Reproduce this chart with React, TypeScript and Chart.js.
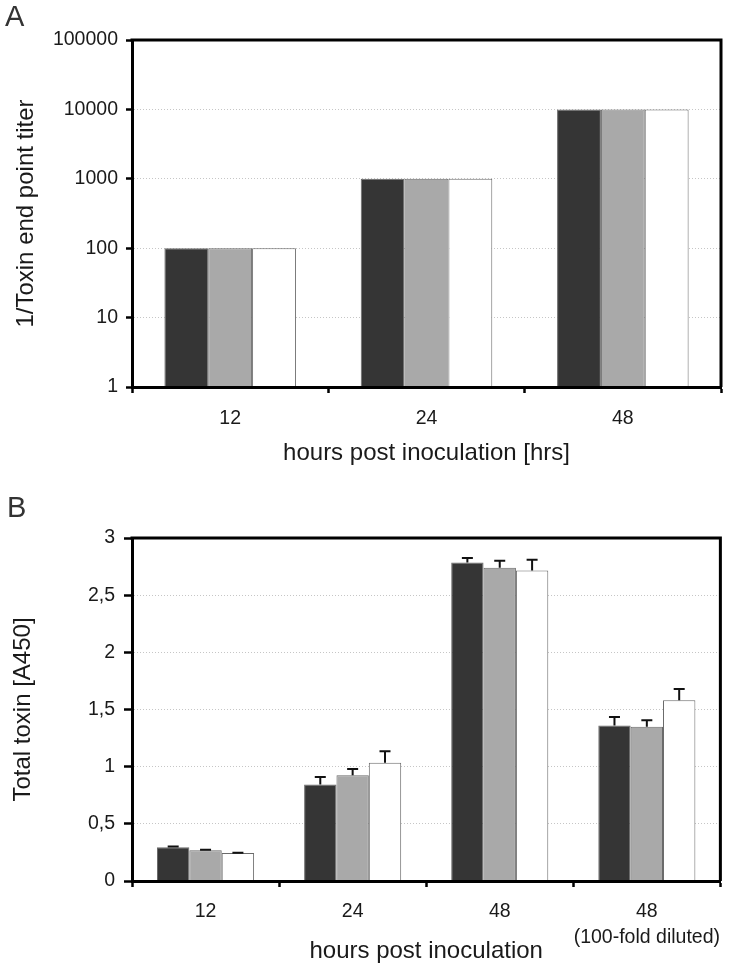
import { useEffect, useRef } from 'react';
import { Chart, registerables } from 'chart.js';

Chart.register(...registerables);

const FONT = '"Liberation Sans", Arial, Helvetica, sans-serif';
const TEXT = '#1a1a1a';

// Panel A
const categoriesA = ['12', '24', '48'];
const seriesA1 = [100, 1000, 10000];
const seriesA2 = [100, 1000, 10000];
const seriesA3 = [100, 1000, 10000];
const yTicksA = [1, 10, 100, 1000, 10000, 100000];

// Panel B
const categoriesB: (string | string[])[] = ['12', '24', '48', ['48', '(100-fold diluted)']];
const seriesB1 = [0.295, 0.845, 2.785, 1.36];
const seriesB2 = [0.27, 0.925, 2.74, 1.35];
const seriesB3 = [0.245, 1.035, 2.715, 1.58];
const errorB1 = [0.006, 0.065, 0.04, 0.075];
const errorB2 = [0.004, 0.055, 0.06, 0.055];
const errorB3 = [0.003, 0.1, 0.095, 0.1];
const yTicksB = [0, 0.5, 1, 1.5, 2, 2.5, 3];
const yTickLabelsB = ['0', '0,5', '1', '1,5', '2', '2,5', '3'];

const COLORS = ['#353535', '#a9a9a9', '#ffffff'];
const BORDER = '#6a6a6a';

const framePlugin = {
  id: 'frame',
  afterDraw(chart: any, _args: any, opts: any) {
    const { ctx, chartArea: a } = chart;
    ctx.save();
    ctx.strokeStyle = '#000';
    ctx.lineWidth = 3;
    ctx.beginPath();
    ctx.moveTo(a.left - 1.5, a.top);
    ctx.lineTo(a.right, a.top);
    ctx.lineTo(a.right, a.bottom);
    ctx.stroke();
    ctx.fillStyle = '#333';
    ctx.font = `29px ${FONT}`;
    ctx.textBaseline = 'alphabetic';
    ctx.textAlign = 'left';
    ctx.fillText(opts.letter, opts.lx, opts.ly);
    ctx.restore();
  },
};

const errorBarPlugin = {
  id: 'errorBars',
  afterDatasetsDraw(chart: any) {
    const { ctx } = chart;
    const yScale = chart.scales.y;
    chart.data.datasets.forEach((ds: any, i: number) => {
      const errs = ds.errors;
      if (!errs) return;
      const meta = chart.getDatasetMeta(i);
      meta.data.forEach((bar: any, j: number) => {
        const v = ds.data[j];
        const e = errs[j];
        const yTop = yScale.getPixelForValue(v + e);
        const x = bar.x;
        ctx.save();
        ctx.strokeStyle = '#111';
        ctx.lineWidth = 2;
        ctx.beginPath();
        ctx.moveTo(x, bar.y);
        ctx.lineTo(x, yTop);
        ctx.moveTo(x - 5.5, yTop);
        ctx.lineTo(x + 5.5, yTop);
        ctx.stroke();
        ctx.restore();
      });
    });
  },
};

function makeDatasets(series: number[][], errors: number[][] | null, catPct: number) {
  return series.map((d, i) => ({
    data: d,
    errors: errors ? errors[i] : undefined,
    backgroundColor: COLORS[i],
    borderColor: BORDER,
    borderWidth: 1,
    categoryPercentage: catPct,
    barPercentage: 1,
  }));
}

function xScale(opts: any) {
  return {
    grid: {
      display: true,
      drawOnChartArea: false,
      drawTicks: true,
      tickLength: 6,
      tickColor: '#000',
      tickWidth: 2.5,
      offset: true,
    },
    border: { display: true, color: '#000', width: 3, z: 1 },
    ticks: {
      color: TEXT,
      font: { size: 19.5, family: FONT, lineHeight: opts.tickLH },
      padding: opts.tickPad,
      maxRotation: 0,
      autoSkip: false,
    },
    title: {
      display: true,
      text: opts.title,
      color: TEXT,
      font: { size: 24, family: FONT, lineHeight: 1.2 },
      padding: { top: 0, bottom: opts.titlePad },
    },
    afterFit: (s: any) => {
      s.height = opts.height;
    },
  };
}

function yGrid(tl: number) {
  return {
    color: '#c6c6c6',
    lineWidth: 1,
    tickColor: '#000',
    tickWidth: 2.5,
    tickLength: tl,
    drawTicks: true,
    drawOnChartArea: true,
  };
}

export default function App() {
  const refA = useRef<HTMLCanvasElement>(null);
  const refB = useRef<HTMLCanvasElement>(null);

  useEffect(() => {
    const chartA = new Chart(refA.current as HTMLCanvasElement, {
      type: 'bar',
      data: {
        labels: categoriesA,
        datasets: makeDatasets([seriesA1, seriesA2, seriesA3], null, 0.67) as any,
      },
      options: {
        animation: false,
        responsive: false,
        layout: { padding: { top: 40, right: 11, left: 0, bottom: 0 } },
        plugins: {
          legend: { display: false },
          tooltip: { enabled: false },
          frame: { letter: 'A', lx: 5, ly: 26 },
        } as any,
        scales: {
          x: xScale({ title: 'hours post inoculation [hrs]', height: 97, tickPad: 14, tickLH: 1.2, titlePad: 16 }) as any,
          y: {
            type: 'logarithmic',
            min: 1,
            max: 100000,
            afterBuildTicks: (s: any) => {
              s.ticks = yTicksA.map((v) => ({ value: v }));
            },
            ticks: {
              color: TEXT,
              font: { size: 19.5, family: FONT },
              padding: 8,
              callback: (v: any) => String(v),
            },
            grid: yGrid(6),
            border: { display: true, color: '#000', width: 3, dash: [1, 2], z: 1 },
            title: {
              display: true,
              text: '1/Toxin end point titer',
              color: TEXT,
              font: { size: 24, family: FONT, lineHeight: 1.2 },
              padding: { top: 12, bottom: 0 },
            },
            afterFit: (s: any) => {
              s.width = 132;
            },
          } as any,
        },
      },
      plugins: [framePlugin, errorBarPlugin],
    });

    const chartB = new Chart(refB.current as HTMLCanvasElement, {
      type: 'bar',
      data: {
        labels: categoriesB as any,
        datasets: makeDatasets([seriesB1, seriesB2, seriesB3], [errorB1, errorB2, errorB3], 0.66) as any,
      },
      options: {
        animation: false,
        responsive: false,
        layout: { padding: { top: 54, right: 8, left: 0, bottom: 0 } },
        plugins: {
          legend: { display: false },
          tooltip: { enabled: false },
          frame: { letter: 'B', lx: 7, ly: 33 },
        } as any,
        scales: {
          x: xScale({ title: 'hours post inoculation', height: 87, tickPad: 11, tickLH: 1.35, titlePad: 2 }) as any,
          y: {
            type: 'linear',
            min: 0,
            max: 3,
            afterBuildTicks: (s: any) => {
              s.ticks = yTicksB.map((v) => ({ value: v }));
            },
            ticks: {
              color: TEXT,
              font: { size: 19.5, family: FONT },
              padding: 9,
              callback: (_v: any, i: number) => yTickLabelsB[i],
            },
            grid: yGrid(8),
            border: { display: true, color: '#000', width: 3, dash: [1, 2], z: 1 },
            title: {
              display: true,
              text: 'Total toxin [A450]',
              color: TEXT,
              font: { size: 24, family: FONT, lineHeight: 1.2 },
              padding: { top: 9, bottom: 0 },
            },
            afterFit: (s: any) => {
              s.width = 132;
            },
          } as any,
        },
      },
      plugins: [framePlugin, errorBarPlugin],
    });

    return () => {
      chartA.destroy();
      chartB.destroy();
    };
  }, []);

  return (
    <div style={{ position: 'absolute', left: 0, top: 0, width: 732, height: 968, background: '#fff' }}>
      <div style={{ position: 'absolute', left: 0, top: 0, width: 732, height: 484 }}>
        <canvas ref={refA} width={732} height={484} style={{ display: 'block' }} />
      </div>
      <div style={{ position: 'absolute', left: 0, top: 484, width: 732, height: 484 }}>
        <canvas ref={refB} width={732} height={484} style={{ display: 'block' }} />
      </div>
    </div>
  );
}
